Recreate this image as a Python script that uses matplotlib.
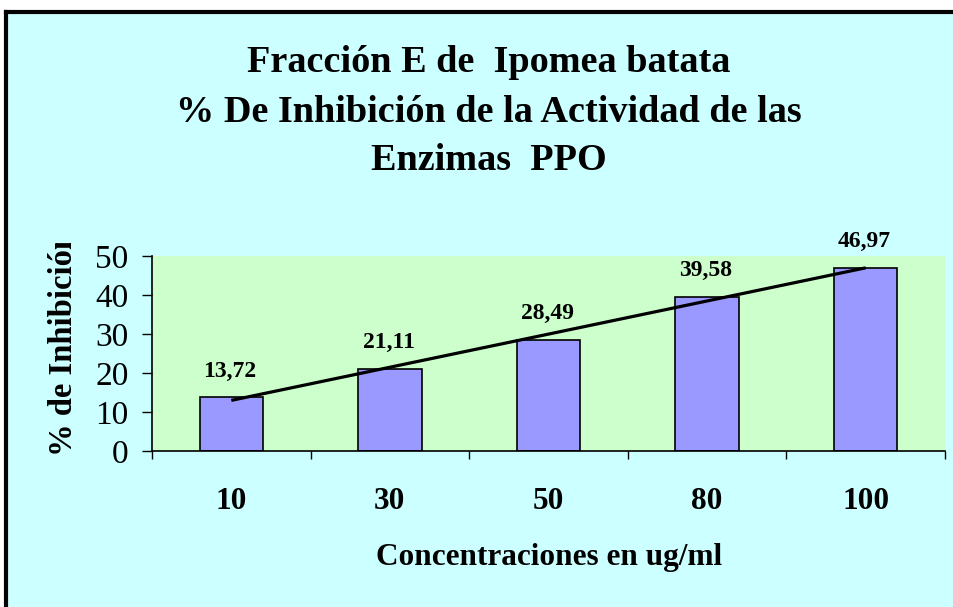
import numpy as np
import matplotlib
matplotlib.use("Agg")
import matplotlib.pyplot as plt
from matplotlib.patches import Rectangle
from matplotlib.lines import Line2D

# Data
concentrations = ["10", "30", "50", "80", "100"]
inhibition = [13.72, 21.11, 28.49, 39.58, 46.97]
bar_labels = ["13,72", "21,11", "28,49", "39,58", "46,97"]
y_ticks = [0, 10, 20, 30, 40, 50]

W, H = 954, 607
plt.rcParams["font.family"] = ["Liberation Serif", "DejaVu Serif"]

fig = plt.figure(figsize=(W / 100, H / 100), dpi=100, facecolor="white")

# chart frame: cyan background, thick black border on top and left only
bg = Rectangle((6.5 / W, 0), 1.0, 1 - 11.5 / H, transform=fig.transFigure,
               facecolor="#CCFFFF", edgecolor="none", zorder=-2)
fig.patches.append(bg)
top = 1 - 11.5 / H
fig.lines.append(Line2D([6.5 / W, 1.0], [top, top], transform=fig.transFigure,
                        color="black", linewidth=3.0, zorder=-1))
fig.lines.append(Line2D([6.5 / W, 6.5 / W], [0, top], transform=fig.transFigure,
                        color="black", linewidth=3.0, zorder=-1))

ax = fig.add_axes([152 / W, 1 - 451 / H, 793 / W, 195 / H])
ax.set_facecolor("#CCFFCC")

x = np.arange(len(inhibition))
ax.bar(x, inhibition, width=0.4, color="#9999FF", edgecolor="black",
       linewidth=1.2, zorder=2)

# linear trend line through the bars
coef = np.polyfit(x, inhibition, 1)
ax.plot([x[0], x[-1]], np.polyval(coef, [x[0], x[-1]]), color="black",
        linewidth=2.3, zorder=3, solid_capstyle="butt")

for xi, v, lab in zip(x, inhibition, bar_labels):
    ax.annotate(lab, (xi, v), xytext=(-1, 15), textcoords="offset points",
                ha="center", va="baseline", fontsize=17, fontweight="bold",
                annotation_clip=False)

ax.set_xlim(-0.5, len(inhibition) - 0.5)
ax.set_ylim(0, 50)
ax.set_yticks(y_ticks)
ax.tick_params(axis="y", direction="out", length=7, width=1, pad=10,
               labelsize=24)
ax.set_xticks(x)
ax.set_xticklabels(concentrations, fontsize=22.5, fontweight="bold")
ax.set_xticks(np.arange(-0.5, len(inhibition)), minor=True)
ax.tick_params(axis="x", which="major", length=0, pad=26)
ax.tick_params(axis="x", which="minor", direction="out", length=6, width=1)

for s in ["top", "right"]:
    ax.spines[s].set_visible(False)
for s in ["left", "bottom"]:
    ax.spines[s].set_linewidth(1.2)

# titles
title_lines = ["Fracción E de  Ipomea batata",
               "% De Inhibición de la Actividad de las",
               "Enzimas  PPO"]
for i, line in enumerate(title_lines):
    fig.text(489 / W, 1 - (63 + 49 * i) / H, line, ha="center", va="center",
             fontsize=27.5, fontweight="bold")

fig.text(549 / W, 1 - 557 / H, "Concentraciones en ug/ml", ha="center",
         va="center", fontsize=22.5, fontweight="bold")

# y label, cut off at the top as in the original
ylab = fig.text(64 / W, 1 - 456 / H, "% de Inhibición", rotation=90,
                ha="center", va="bottom", fontsize=23.5, fontweight="bold")
clip = Rectangle((0, 0), 1, 1 - 243 / H, transform=fig.transFigure,
                 visible=False)
fig.patches.append(clip)
ylab.set_clip_path(clip)

fig.savefig("out.png", dpi=100, facecolor="white")
